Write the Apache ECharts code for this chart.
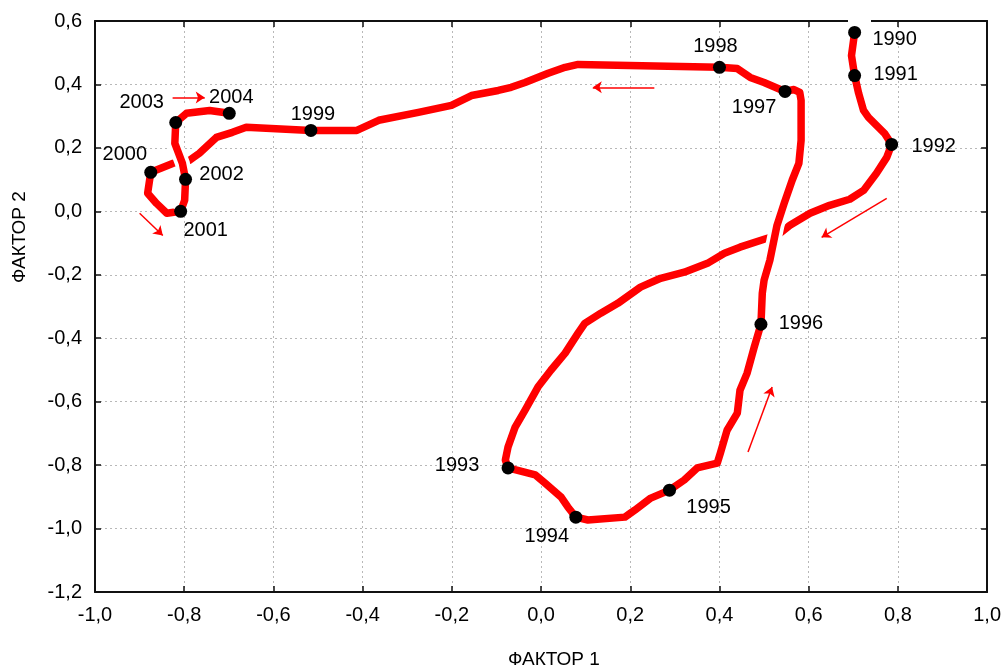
<!DOCTYPE html>
<html>
<head>
<meta charset="utf-8">
<script src="https://cdn.jsdelivr.net/npm/echarts@6/dist/echarts.min.js"></script>
<style>
    html, body { margin: 0; padding: 0; background: #fff; }
    #chart { width: 1004px; height: 671px; }
</style>
</head>
<body>
<div id="chart"></div>
<script>
// trajectory of the two factors, 1990 -> 2004
const pathX = [
    0.703, 0.696, 0.703, 0.712, 0.723, 0.734, 0.752, 0.770, 0.786,
    0.775, 0.752, 0.723, 0.692, 0.647, 0.603, 0.558, 0.529, 0.507, 0.446, 0.411, 0.373, 0.321, 0.268, 0.223,
    0.172, 0.134, 0.098, 0.083, 0.054, 0.022, -0.007, -0.036, -0.058, -0.074, -0.080, -0.074,
    -0.013, 0.009, 0.045, 0.060, 0.078,
    0.105, 0.188, 0.210, 0.246, 0.288,
    0.321, 0.350, 0.395, 0.402, 0.417, 0.440, 0.446, 0.462, 0.478, 0.493,
    0.496, 0.500, 0.513, 0.529, 0.545, 0.563, 0.578, 0.583, 0.583, 0.580, 0.567, 0.547,
    0.500, 0.469, 0.440, 0.400,
    0.083, 0.054, 0.016, -0.036, -0.067, -0.096, -0.156, -0.201, -0.275, -0.364, -0.413, -0.516,
    -0.661, -0.692, -0.728, -0.766, -0.788, -0.826, -0.875,
    -0.882, -0.862, -0.839, -0.808,
    -0.799, -0.797,
    -0.804, -0.821, -0.819,
    -0.795, -0.743, -0.699
];
const pathY = [
    0.564, 0.491, 0.428, 0.372, 0.318, 0.296, 0.271, 0.246, 0.211,
    0.170, 0.120, 0.066, 0.038, 0.019, -0.006, -0.044, -0.076, -0.085, -0.113, -0.132, -0.164, -0.192, -0.211, -0.239,
    -0.290, -0.321, -0.353, -0.384, -0.447, -0.501, -0.554, -0.627, -0.680, -0.743, -0.784, -0.809,
    -0.831, -0.857, -0.901, -0.932, -0.964,
    -0.973, -0.964, -0.942, -0.904, -0.879,
    -0.847, -0.809, -0.794, -0.762, -0.690, -0.636, -0.564, -0.510, -0.428, -0.356,
    -0.258, -0.217, -0.154, -0.044, 0.025, 0.098, 0.151, 0.224, 0.350, 0.375, 0.384, 0.378,
    0.406, 0.422, 0.450, 0.454,
    0.463, 0.454, 0.435, 0.406, 0.391, 0.381, 0.365, 0.334, 0.312, 0.287, 0.255, 0.255,
    0.265, 0.249, 0.233, 0.183, 0.161, 0.151, 0.123,
    0.057, 0.025, -0.006, 0.000,
    0.035, 0.101,
    0.151, 0.214, 0.280,
    0.309, 0.318, 0.309
];

const years = ['1990', '1991', '1992', '1993', '1994', '1995', '1996', '1997',
               '1998', '1999', '2000', '2001', '2002', '2003', '2004'];
const yearX = [0.703, 0.703, 0.786, -0.074, 0.078, 0.288, 0.493, 0.547,
               0.400, -0.516, -0.875, -0.808, -0.797, -0.819, -0.699];
const yearY = [0.564, 0.428, 0.211, -0.809, -0.964, -0.879, -0.356, 0.378,
               0.454, 0.255, 0.123, 0.000, 0.101, 0.280, 0.309];

// direction arrows: [x1, y1, x2, y2]
const arrows = [
    [-0.826, 0.359, -0.754, 0.359],
    [-0.900, -0.006, -0.848, -0.076],
    [0.254, 0.391, 0.116, 0.391],
    [0.775, 0.041, 0.629, -0.082],
    [0.464, -0.759, 0.518, -0.554]
];

const xTicks = { min: -1.0, max: 1.0, step: 0.2 };
const yTicks = { min: -1.2, max: 0.6, step: 0.2 };

// label offsets (px) of the year labels from their points
const labelOffsets = {
    '1990': [40, 7], '1991': [41, -1], '1992': [42, 2], '1993': [-51, -2],
    '1994': [-29, 19], '1995': [39, 17], '1996': [40, -1], '1997': [-31, 16],
    '1998': [-4, -21], '1999': [2, -16], '2000': [-26, -18], '2001': [25, 19],
    '2002': [36, -5], '2003': [-34, -20], '2004': [2, -16]
};

const FONT = '"Liberation Sans", Arial, sans-serif';
const RED = '#ff0000';

function comma(v) {
    return v.toFixed(1).replace('.', ',');
}

function pathPart(fromYear, toYear) {
    let a = 0, b = pathX.length - 1;
    if (fromYear) {
        let i = years.indexOf(fromYear);
        a = pathX.findIndex((x, k) => x === yearX[i] && pathY[k] === yearY[i]);
    }
    if (toYear) {
        let i = years.indexOf(toYear);
        b = pathX.findIndex((x, k) => x === yearX[i] && pathY[k] === yearY[i]);
    }
    let out = [];
    for (let k = a; k <= b; k++) out.push([pathX[k], pathY[k]]);
    return out;
}

function redLine(data) {
    return {
        type: 'line', data: data, showSymbol: false, silent: true,
        lineStyle: { color: RED, width: 7.5, cap: 'round', join: 'round', opacity: 1 },
        z: 3
    };
}
// white band under a later stretch, so it cuts the earlier one where they cross
function halo(data) {
    return {
        type: 'line', data: data, showSymbol: false, silent: true,
        lineStyle: { color: '#fff', width: 15, cap: 'butt', join: 'round', opacity: 1 },
        z: 3
    };
}

let chart = echarts.init(document.getElementById('chart'), null, { renderer: 'canvas' });

let partA = pathPart(null, '1996');
let partB = pathPart('1996', '2001');
let partC = pathPart('2001', null);

let axisCommon = {
    type: 'value',
    axisLine: { show: true, onZero: false, lineStyle: { color: '#111', width: 2 } },
    axisTick: { show: true, inside: true, length: 6, lineStyle: { color: '#111', width: 1.5 } }
};

let option = {
    backgroundColor: '#fff',
    animation: false,
    grid: { left: 95, right: 13, top: 21, bottom: 79 },
    xAxis: [
        Object.assign({}, axisCommon, {
            position: 'bottom',
            min: xTicks.min, max: xTicks.max, interval: xTicks.step,
            axisLabel: { formatter: comma, color: '#000', fontFamily: FONT, fontSize: 20, margin: 13 },
            splitLine: { show: true, lineStyle: { color: '#b8b8b8', type: [2, 3], width: 1 } }
        }),
        Object.assign({}, axisCommon, {
            position: 'top',
            min: xTicks.min, max: xTicks.max, interval: xTicks.step,
            axisLabel: { show: false },
            splitLine: { show: false }
        })
    ],
    yAxis: [
        Object.assign({}, axisCommon, {
            position: 'left',
            min: yTicks.min, max: yTicks.max, interval: yTicks.step,
            axisLabel: { formatter: comma, color: '#000', fontFamily: FONT, fontSize: 20, margin: 13 },
            splitLine: { show: true, lineStyle: { color: '#b8b8b8', type: [2, 3], width: 1 } }
        }),
        Object.assign({}, axisCommon, {
            position: 'right',
            min: yTicks.min, max: yTicks.max, interval: yTicks.step,
            axisLabel: { show: false },
            splitLine: { show: false }
        })
    ],
    graphic: [
        {
            type: 'text', left: 508, top: 650,
            style: { text: 'ФАКТОР 1', font: '19px ' + FONT, fill: '#000' }
        },
        {
            type: 'text', x: 10, y: 283, rotation: Math.PI / 2,
            style: { text: 'ФАКТОР 2', font: '19px ' + FONT, fill: '#000' }
        },
        {
            type: 'rect', shape: { x: 848, y: 16, width: 23, height: 8 },
            style: { fill: '#fff' }, z: 10
        }
    ],
    series: [
        {
            type: 'lines',
            coordinateSystem: 'cartesian2d',
            silent: true,
            symbol: ['none', 'arrow'],
            symbolSize: 9,
            lineStyle: { color: RED, width: 1.5, opacity: 1 },
            data: arrows.map(a => ({ coords: [[a[0], a[1]], [a[2], a[3]]] })),
            z: 2
        },
        redLine(partA),
        halo(partB),
        redLine(partB),
        halo(partC),
        redLine(partC),
        {
            type: 'scatter',
            symbol: 'circle',
            symbolSize: 13,
            itemStyle: { color: '#000', opacity: 1 },
            silent: true,
            z: 5,
            data: years.map((y, i) => ({
                value: [yearX[i], yearY[i]],
                name: y,
                label: {
                    show: true,
                    position: 'inside',
                    align: 'center',
                    verticalAlign: 'middle',
                    offset: labelOffsets[y],
                    formatter: y,
                    color: '#000',
                    opacity: 1,
                    fontFamily: FONT,
                    fontSize: 20
                }
            }))
        }
    ]
};

chart.setOption(option);
</script>
</body>
</html>
